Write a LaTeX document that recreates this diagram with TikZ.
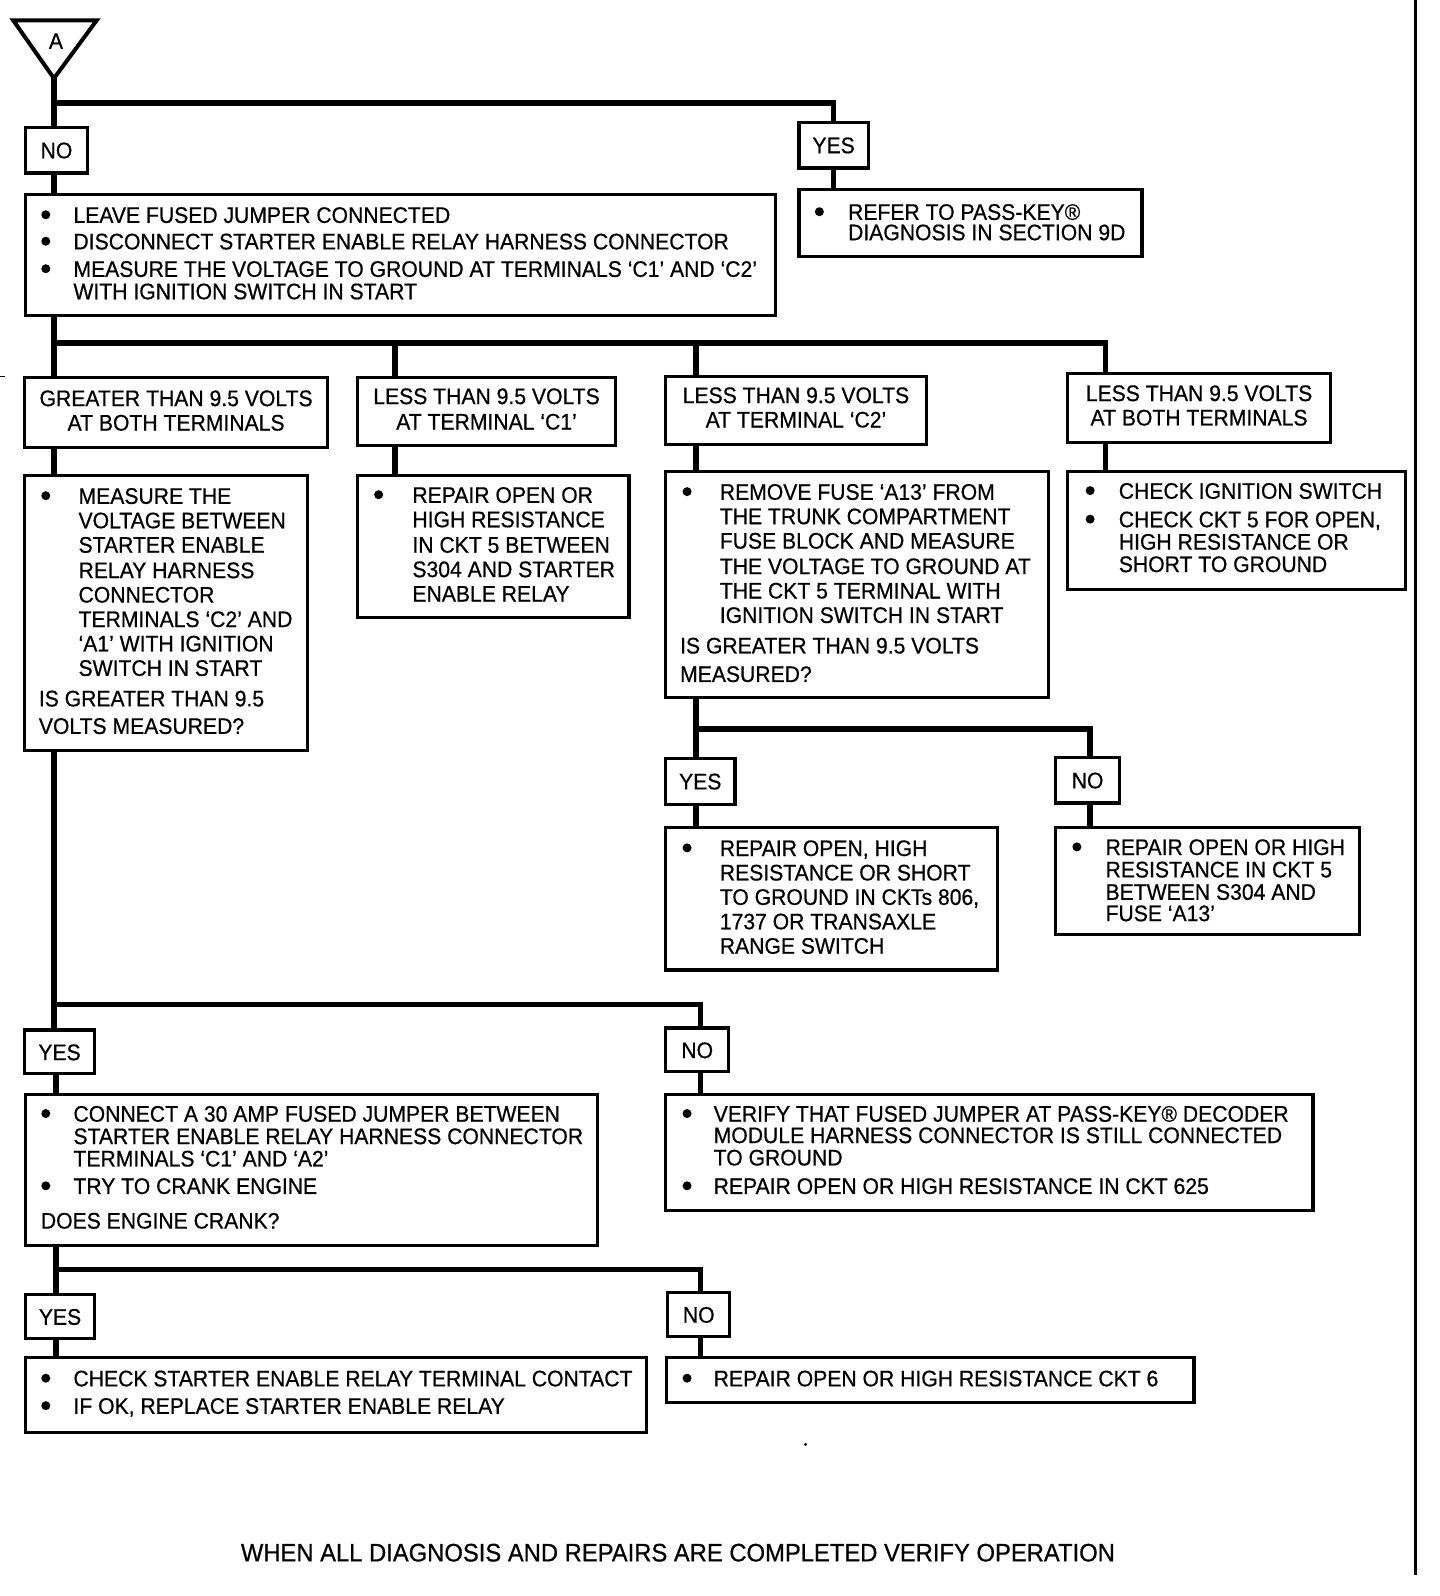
\documentclass[tikz,border=0pt]{standalone}
\usepackage{fontspec}
\setmainfont{Liberation Sans}[FakeStretch=0.94,FakeBold=0.6]
\usetikzlibrary{fit}
\newcommand\Tline[4]{\node[txt,anchor=base west] (#1) at (#2,#3+8) {#4};}
\newcommand\Ctext[4]{\node[txt,anchor=base] (#1) at (#2,#3+8) {#4};}
\newcommand\Bdot[3]{\node[bul] (#1) at (#2,#3) {};}
\newcommand\Bbox[5]{\node[box,fit={(#2,#3) (#4,#5)}] (#1) {};}
\begin{document}
\begin{tikzpicture}[x=1.01786pt,y=-1.01786pt,
  conn/.style={line width=5.5pt},
  box/.style={draw,line width=3.2pt,inner sep=0pt},
  txt/.style={inner sep=0pt,font=\fontsize{22.5}{27}\selectfont},
  bul/.style={circle,fill,inner sep=0pt,minimum size=9pt}]
\path[fill=white,use as bounding box] (0,0) rectangle (1414.73,1568);
% start triangle
\draw[line width=4pt,line join=miter] (13,20) -- (95,20) -- (53,77) -- cycle;
\coordinate (apex) at (53,77);
\Ctext{Alab}{55}{40}{A}
% boxes
\Bbox{no1}{25}{125}{86}{170}
\Bbox{yes1}{785}{120}{853}{165}
\Bbox{box1}{25}{191}{762}{310}
\Bbox{pk}{785}{186}{1122}{252}
\Bbox{hgt}{24}{371}{322}{440}
\Bbox{hc1}{351}{371}{605}{438}
\Bbox{hc2}{654}{370}{910}{437}
\Bbox{hlb}{1049}{367}{1307}{435}
\Bbox{ms}{24}{467}{302}{737}
\Bbox{rc1}{351}{467}{618}{607}
\Bbox{rf}{654}{463}{1030}{685}
\Bbox{ck}{1049}{463}{1381}{579}
\Bbox{yes2}{654}{745}{722}{790}
\Bbox{no2}{1037}{744}{1100}{789}
\Bbox{ry}{654}{813}{980}{953}
\Bbox{rn}{1037}{813}{1336}{918}
\Bbox{yes3}{24}{1012}{93}{1055}
\Bbox{no3}{654}{1010}{716}{1053}
\Bbox{cn}{25}{1075}{587}{1224}
\Bbox{vf}{654}{1075}{1290}{1189}
\Bbox{yes4}{25}{1272}{93}{1315}
\Bbox{no4}{656}{1270}{717}{1313}
\Bbox{cs}{25}{1334}{635}{1407}
\Bbox{c6}{655}{1334}{1173}{1378}
% connectors
\coordinate (j1) at (53,101);
\draw[conn] (apex) -- (no1.north -| apex);
\draw[conn,line join=miter] (j1) -| (yes1.north);
\draw[conn] (no1.south -| apex) -- (box1.north -| apex);
\draw[conn] (yes1.south) -- (pk.north -| yes1.south);
\coordinate (j2) at (53,337);
\coordinate (d2) at (388,337);
\coordinate (d3) at (684,337);
\coordinate (d4) at (1086,337);
\draw[conn] (box1.south -| j2) -- (hgt.north -| j2);
\draw[conn,line join=miter] (j2) -- (d4) -- (hlb.north -| d4);
\draw[conn] (d2) -- (hc1.north -| d2);
\draw[conn] (d3) -- (hc2.north -| d3);
\draw[conn] (hgt.south -| j2) -- (ms.north -| j2);
\draw[conn] (hc1.south -| d2) -- (rc1.north -| d2);
\draw[conn] (hc2.south -| d3) -- (rf.north -| d3);
\draw[conn] (hlb.south -| d4) -- (ck.north -| d4);
\coordinate (j3) at (684,716);
\coordinate (d5) at (1071,716);
\draw[conn] (rf.south -| j3) -- (yes2.north -| j3);
\draw[conn,line join=miter] (j3) -- (d5) -- (no2.north -| d5);
\draw[conn] (yes2.south -| j3) -- (ry.north -| j3);
\draw[conn] (no2.south -| d5) -- (rn.north -| d5);
\coordinate (j4) at (53,987);
\coordinate (d6) at (688,987);
\draw[conn] (ms.south -| j4) -- (yes3.north -| j4);
\draw[conn,line join=miter] (j4) -- (d6) -- (no3.north -| d6);
\coordinate (j5) at (55,1247);
\coordinate (d7) at (688,1247);
\draw[conn] (yes3.south -| j5) -- (cn.north -| j5);
\draw[conn] (no3.south -| d6) -- (vf.north -| d6);
\draw[conn] (cn.south -| j5) -- (yes4.north -| j5);
\draw[conn,line join=miter] (j5) -- (d7) -- (no4.north -| d7);
\draw[conn] (yes4.south -| j5) -- (cs.north -| j5);
\draw[conn] (no4.south -| d7) -- (c6.north -| d7);
% labels
\Ctext{no1t}{55.5}{147.5}{NO}
\Ctext{yes1t}{819}{142.5}{YES}
\Ctext{yes2t}{688}{767.5}{YES}
\Ctext{no2t}{1068.5}{766.5}{NO}
\Ctext{yes3t}{58.5}{1033.5}{YES}
\Ctext{no3t}{685}{1031.5}{NO}
\Ctext{yes4t}{59}{1293.5}{YES}
\Ctext{no4t}{686.5}{1291.5}{NO}
% box1
\Bdot{b1a}{45}{211}\Tline{b1t1}{72}{211}{LEAVE FUSED JUMPER CONNECTED}
\Bdot{b1b}{45}{237}\Tline{b1t2}{72}{237}{DISCONNECT STARTER ENABLE RELAY HARNESS CONNECTOR}
\Bdot{b1c}{45}{264}\Tline{b1t3}{72}{264}{MEASURE THE VOLTAGE TO GROUND AT TERMINALS ‘C1’ AND ‘C2’}
\Tline{b1t4}{72}{286}{WITH IGNITION SWITCH IN START}
% pass-key
\Bdot{pka}{805}{208}\Tline{pkt1}{833}{208}{REFER TO PASS-KEY®}
\Tline{pkt2}{833}{228}{DIAGNOSIS IN SECTION 9D}
% headers
\Ctext{hgt1}{173}{391}{GREATER THAN 9.5 VOLTS}
\Ctext{hgt2}{173}{415}{AT BOTH TERMINALS}
\Ctext{hc11}{478}{389}{LESS THAN 9.5 VOLTS}
\Ctext{hc12}{478}{414}{AT TERMINAL ‘C1’}
\Ctext{hc21}{782}{388}{LESS THAN 9.5 VOLTS}
\Ctext{hc22}{782}{412}{AT TERMINAL ‘C2’}
\Ctext{hlb1}{1178}{386}{LESS THAN 9.5 VOLTS}
\Ctext{hlb2}{1178}{410}{AT BOTH TERMINALS}
% measure box
\Bdot{msa}{45}{487}\Tline{mst1}{77}{487}{MEASURE THE}
\Tline{mst2}{77}{511}{VOLTAGE BETWEEN}
\Tline{mst3}{77}{535}{STARTER ENABLE}
\Tline{mst4}{77}{560}{RELAY HARNESS}
\Tline{mst5}{77}{584}{CONNECTOR}
\Tline{mst6}{77}{608}{TERMINALS ‘C2’ AND}
\Tline{mst7}{77}{632}{‘A1’ WITH IGNITION}
\Tline{mst8}{77}{656}{SWITCH IN START}
\Tline{msq1}{38}{686}{IS GREATER THAN 9.5}
\Tline{msq2}{38}{713}{VOLTS MEASURED?}
% repair C1
\Bdot{rca}{372}{486}\Tline{rct1}{405}{486}{REPAIR OPEN OR}
\Tline{rct2}{405}{510}{HIGH RESISTANCE}
\Tline{rct3}{405}{535}{IN CKT 5 BETWEEN}
\Tline{rct4}{405}{559}{S304 AND STARTER}
\Tline{rct5}{405}{583}{ENABLE RELAY}
% remove fuse
\Bdot{rfa}{675}{483}\Tline{rft1}{707}{483}{REMOVE FUSE ‘A13’ FROM}
\Tline{rft2}{707}{507}{THE TRUNK COMPARTMENT}
\Tline{rft3}{707}{531}{FUSE BLOCK AND MEASURE}
\Tline{rft4}{707}{556}{THE VOLTAGE TO GROUND AT}
\Tline{rft5}{707}{580}{THE CKT 5 TERMINAL WITH}
\Tline{rft6}{707}{604}{IGNITION SWITCH IN START}
\Tline{rfq1}{668}{634}{IS GREATER THAN 9.5 VOLTS}
\Tline{rfq2}{668}{662}{MEASURED?}
% check ignition
\Bdot{cka}{1071}{482}\Tline{ckt1}{1099}{482}{CHECK IGNITION SWITCH}
\Bdot{ckb}{1071}{510}\Tline{ckt2}{1099}{510}{CHECK CKT 5 FOR OPEN,}
\Tline{ckt3}{1099}{532}{HIGH RESISTANCE OR}
\Tline{ckt4}{1099}{554}{SHORT TO GROUND}
% repair yes
\Bdot{rya}{675}{833}\Tline{ryt1}{707}{833}{REPAIR OPEN, HIGH}
\Tline{ryt2}{707}{857}{RESISTANCE OR SHORT}
\Tline{ryt3}{707}{881}{TO GROUND IN CKTs 806,}
\Tline{ryt4}{707}{905}{1737 OR TRANSAXLE}
\Tline{ryt5}{707}{929}{RANGE SWITCH}
% repair no
\Bdot{rna}{1058}{832}\Tline{rnt1}{1086}{832}{REPAIR OPEN OR HIGH}
\Tline{rnt2}{1086}{854}{RESISTANCE IN CKT 5}
\Tline{rnt3}{1086}{876}{BETWEEN S304 AND}
\Tline{rnt4}{1086}{897}{FUSE ‘A13’}
% connect jumper
\Bdot{cna}{45}{1094}\Tline{cnt1}{72}{1094}{CONNECT A 30 AMP FUSED JUMPER BETWEEN}
\Tline{cnt2}{72}{1116}{STARTER ENABLE RELAY HARNESS CONNECTOR}
\Tline{cnt3}{72}{1138}{TERMINALS ‘C1’ AND ‘A2’}
\Bdot{cnb}{45}{1165}\Tline{cnt4}{72}{1165}{TRY TO CRANK ENGINE}
\Tline{cnq}{40}{1199}{DOES ENGINE CRANK?}
% verify
\Bdot{vfa}{675}{1094}\Tline{vft1}{701}{1094}{VERIFY THAT FUSED JUMPER AT PASS-KEY® DECODER}
\Tline{vft2}{701}{1115}{MODULE HARNESS CONNECTOR IS STILL CONNECTED}
\Tline{vft3}{701}{1137}{TO GROUND}
\Bdot{vfb}{675}{1165}\Tline{vft4}{701}{1165}{REPAIR OPEN OR HIGH RESISTANCE IN CKT 625}
% check starter
\Bdot{csa}{45}{1354}\Tline{cst1}{72}{1354}{CHECK STARTER ENABLE RELAY TERMINAL CONTACT}
\Bdot{csb}{45}{1381}\Tline{cst2}{72}{1381}{IF OK, REPLACE STARTER ENABLE RELAY}
% ckt 6
\Bdot{c6a}{675}{1354}\Tline{c6t1}{701}{1354}{REPAIR OPEN OR HIGH RESISTANCE CKT 6}
% footer
\node[inner sep=0pt,font=\fontsize{25.3}{30}\selectfont,anchor=base] (foot) at (666,1534) {WHEN ALL DIAGNOSIS AND REPAIRS ARE COMPLETED VERIFY OPERATION};
% page edge line, marks
\coordinate (r1) at (1390.5,0);
\coordinate (r2) at (1390.5,1547);
\draw[line width=3pt] (r1) -- (r2);
\fill (791.5,1419) circle (1.6pt);
\draw[line width=1.2pt] (0,370) -- (5,370);
\end{tikzpicture}
\end{document}
